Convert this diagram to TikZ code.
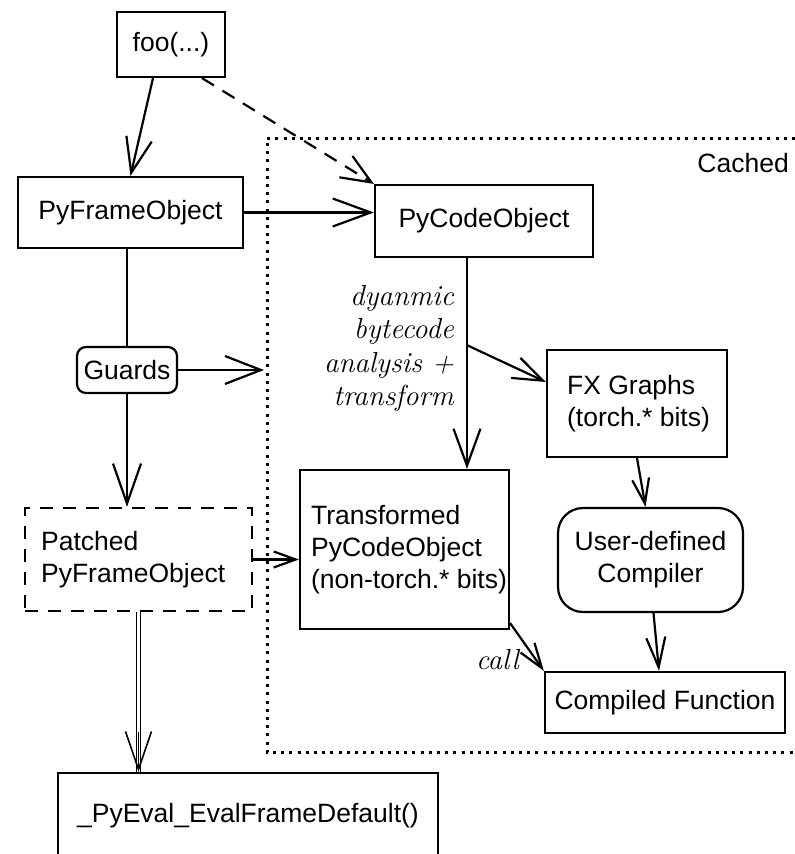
\documentclass[tikz,border=0pt]{standalone}
\usepackage{fontspec}
\newfontfamily\uisans{Liberation Sans}
\usetikzlibrary{arrows.meta,calc}
\begin{document}
\begin{tikzpicture}[x=1pt,y=-1pt,
  label font/.style={font=\uisans\fontsize{26.5}{32}\selectfont},
  box/.style={draw, line width=2.2pt, inner sep=0pt, label font},
  inset/.style={label font, inner sep=0pt, anchor=west, align=left},
  conn/.style={line width=2.2pt},
  arw/.style 2 args={conn, -{Straight Barb[length=#1pt,width=#2pt]}},
  hand/.style={font=\itshape\fontsize{29}{33.5}\selectfont, inner sep=0pt},
  cachedline/.style={line width=3pt, dash pattern=on 3pt off 5.2pt}
]
\useasboundingbox (0,0) rectangle (795,854);

% cached region
\draw[cachedline] (795,138) -- (267,138) -- (267,752) -- (795,752);
\node[label font, anchor=east, inner sep=0pt] (cached) at (789,163) {Cached};

% boxes with centred text
\node[box, minimum width=108pt, minimum height=65pt] (foo) at (171,44.5) {foo(...)};
\node[box, minimum width=225pt, minimum height=71pt] (pyf) at (130.5,212.5) {PyFrameObject};
\node[box, minimum width=218pt, minimum height=72pt] (pyc) at (484,221) {PyCodeObject};
\node[box, minimum width=100pt, minimum height=46pt, rounded corners=9pt] (guards) at (127,370) {Guards};
\node[box, minimum width=185pt, minimum height=104pt, rounded corners=25pt, align=center] (comp) at (650.5,560) {User-defined\\Compiler};
\node[box, minimum width=240pt, minimum height=61pt] (cf) at (665,702.5) {Compiled Function};
\node[box, minimum width=380pt, minimum height=85pt] (ev) at (248,815.5) {\_PyEval\_EvalFrameDefault()};

% boxes with left-set text
\node[box, dash pattern=on 13pt off 10pt, minimum width=227pt, minimum height=103pt] (pat) at (138.5,559.5) {};
\node[inset] (pattext) at ([xshift=17]pat.west) {Patched\\PyFrameObject};
\node[box, minimum width=209pt, minimum height=159pt] (tr) at (404.5,549.5) {};
\node[inset] (trtext) at ([xshift=12]tr.west) {Transformed\\PyCodeObject\\(non-torch.* bits)};
\node[box, minimum width=180pt, minimum height=107pt] (fx) at (637,403.5) {};
\node[inset] (fxtext) at ([xshift=21]fx.west) {FX Graphs\\(torch.* bits)};

% handwritten notes
\node[hand, anchor=east, align=right] (note) at (454,348.5) {dyanmic\\bytecode\\analysis +\\transform};
\node[hand, anchor=east] (calllbl) at (519,660) {call};

% helper points
\coordinate (gtip) at (264,370);
\coordinate (pycout) at ([xshift=-17]pyc.south);
\coordinate (br) at ($(pycout)!0.413!(pycout |- tr.north)$);

% connectors
\draw[arw={35}{26}] ([xshift=-18]foo.south) -- (pyf.north);
\draw[arw={30}{25}, dash pattern=on 14pt off 10pt] ([xshift=31]foo.south) -- (pyc.north west);
\draw[arw={38}{28}] (pyf.east) -- (pyf.east -| pyc.west);
\draw[conn] (guards.north |- pyf.south) -- (guards.north);
\draw[arw={36}{28}] (guards.east) -- (gtip);
\draw[arw={40}{28}] (guards.south) -- (guards.south |- pat.north);
\draw[arw={22}{16}] (pat.east) -- (pat.east -| tr.west);
\draw[line width=1.2pt] ([xshift=-2]pat.south) -- ([xshift=-2]pat.south |- ev.north);
\draw[line width=1.2pt] ([xshift=2]pat.south) -- ([xshift=2]pat.south |- ev.north);
\draw[arw={38}{26}, line width=1.6pt] ($(pat.south |- ev.north)+(0,-40)$) -- (pat.south |- ev.north);
\draw[arw={37}{27}] (pycout) -- (pycout |- tr.north);
\draw[arw={30}{22}] (br) -- ([yshift=21.5]fx.west);
\draw[arw={25}{17}] (fx.south) -- ([xshift=-5]comp.north);
\draw[arw={30}{19}] ([xshift=3]comp.south) -- ([xshift=-6]cf.north);
\draw[arw={25}{17}] ([yshift=7]tr.south east) -- (cf.north west);
\end{tikzpicture}
\end{document}
